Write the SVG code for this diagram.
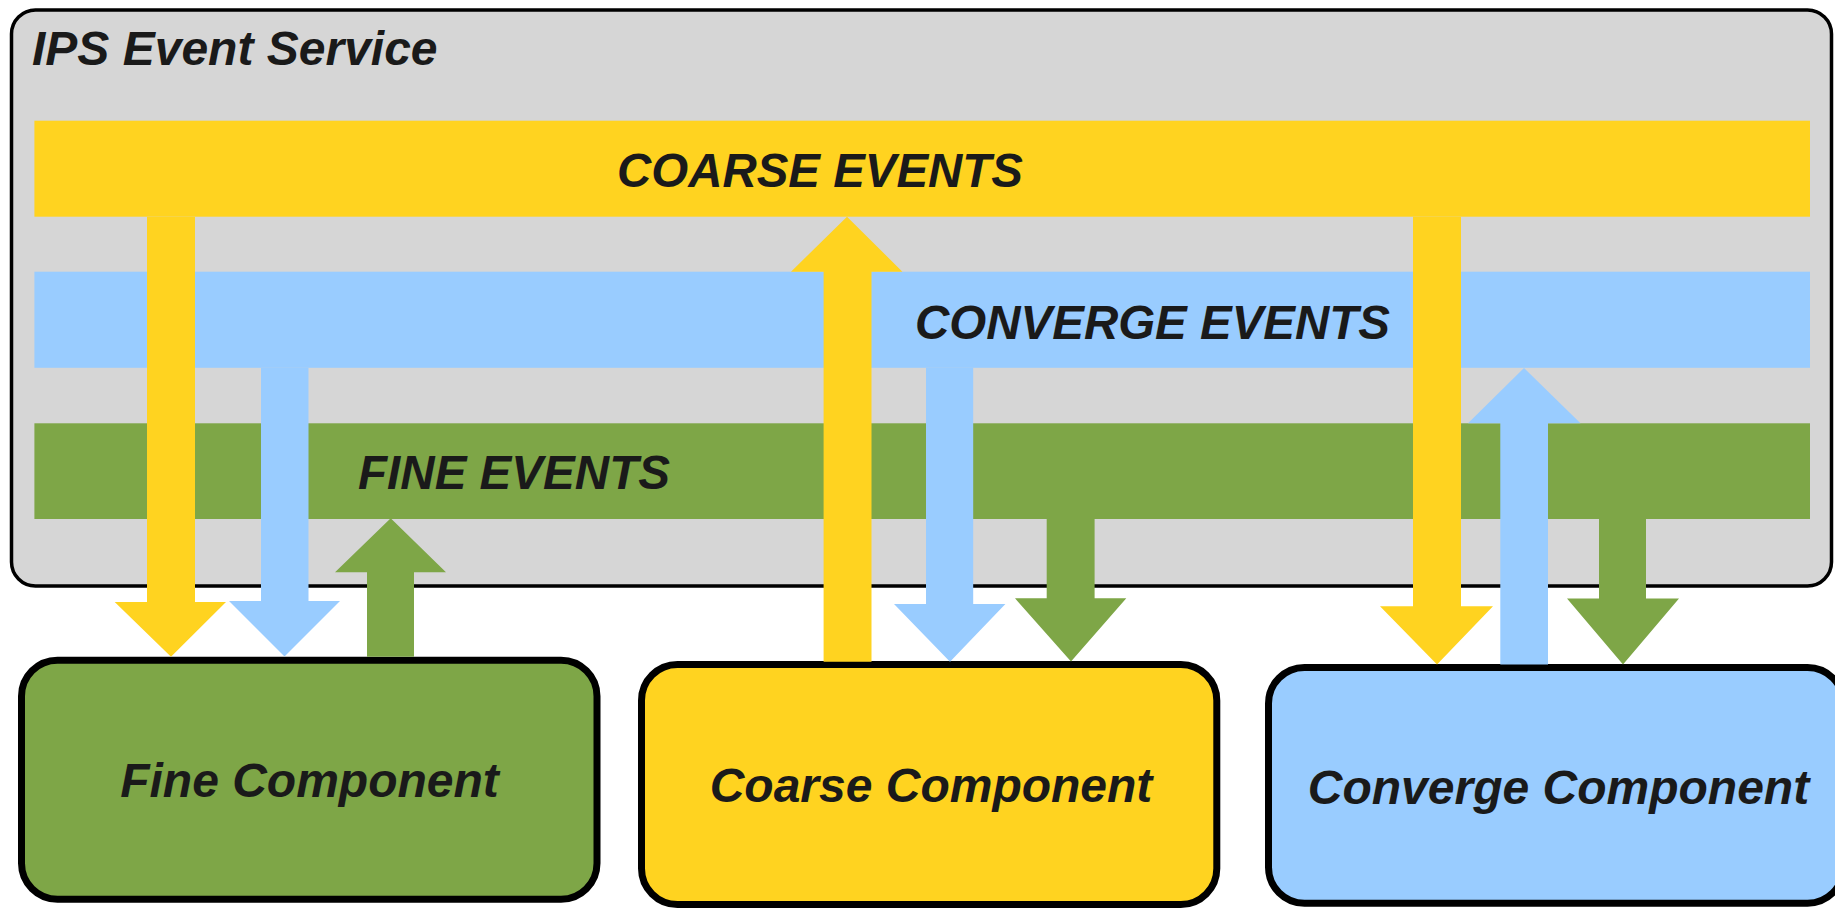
<svg xmlns="http://www.w3.org/2000/svg" width="1835" height="908" viewBox="0 0 1835 908">
  <style>
    .lbl { font-family: "Liberation Sans", Arial, sans-serif; font-weight: bold; font-style: italic; font-size: 48px; fill: #1a1a1a; }
    .yel { fill: #ffd320; }
    .blu { fill: #99ccff; }
    .grn { fill: #7ea647; }
    .comp { stroke: #000; stroke-width: 7; }
  </style>
  <rect width="1835" height="908" fill="#ffffff"/>
  <g id="ips-event-service">
    <rect x="11.5" y="10" width="1820" height="576" rx="24" ry="24" fill="#d6d6d6" stroke="#000" stroke-width="3.5"/>
    <text class="lbl" x="32" y="65">IPS Event Service</text>
  </g>
  <g id="coarse-events">
    <rect class="yel" x="34.4" y="120.7" width="1775.6" height="96"/>
    <text class="lbl" x="617" y="186.7" textLength="406" lengthAdjust="spacingAndGlyphs">COARSE EVENTS</text>
  </g>
  <g id="converge-events">
    <rect class="blu" x="34.4" y="271.7" width="1775.6" height="96.1"/>
    <text class="lbl" x="915" y="338.5" textLength="475" lengthAdjust="spacingAndGlyphs">CONVERGE EVENTS</text>
  </g>
  <g id="fine-events">
    <rect class="grn" x="34.4" y="423.3" width="1775.6" height="95.7"/>
    <text class="lbl" x="358" y="489" textLength="312" lengthAdjust="spacingAndGlyphs">FINE EVENTS</text>
  </g>
  <g id="fine-component">
    <rect class="comp grn" x="21.5" y="660.2" width="575.5" height="239" rx="36" ry="36"/>
    <text class="lbl" x="309.5" y="797" text-anchor="middle">Fine Component</text>
  </g>
  <g id="coarse-component">
    <rect class="comp yel" x="641.5" y="664.5" width="575.3" height="240" rx="36" ry="36"/>
    <text class="lbl" x="931" y="802" text-anchor="middle">Coarse Component</text>
  </g>
  <g id="converge-component">
    <rect class="comp blu" x="1268.5" y="667.5" width="575" height="235.7" rx="36" ry="36"/>
    <text class="lbl" x="1558.5" y="804" text-anchor="middle">Converge Component</text>
  </g>
  <g id="connectors">
    <!-- Fine component group -->
    <polygon class="yel" points="147,216.7 195,216.7 195,602 226,602 171,656.7 114.7,602 147,602"/>
    <polygon class="blu" points="261,367.7 308.5,367.7 308.5,601 340,601 284.5,656.5 229,601 261,601"/>
    <polygon class="grn" points="367,656.7 414,656.7 414,572.3 446,572.3 390.7,518.3 335,572.3 367,572.3"/>
    <!-- Coarse component group -->
    <polygon class="yel" points="823.6,661.7 871.5,661.7 871.5,271.7 902.4,271.7 847,216.7 791,271.7 823.6,271.7"/>
    <polygon class="blu" points="926,367.7 973.2,367.7 973.2,604 1005.4,604 950,661.7 894,604 926,604"/>
    <polygon class="grn" points="1046.7,519 1094.6,519 1094.6,598.3 1126.3,598.3 1071,661.5 1015,598.3 1046.7,598.3"/>
    <!-- Converge component group -->
    <polygon class="yel" points="1413,216.7 1461,216.7 1461,606.3 1493,606.3 1437,664.5 1380,606.3 1413,606.3"/>
    <polygon class="blu" points="1500.3,664.5 1548,664.5 1548,423.3 1580.5,423.3 1524,367.9 1468,423.3 1500.3,423.3"/>
    <polygon class="grn" points="1599,519 1646,519 1646,598.6 1679,598.6 1623,664.5 1567,598.6 1599,598.6"/>
  </g>
</svg>
